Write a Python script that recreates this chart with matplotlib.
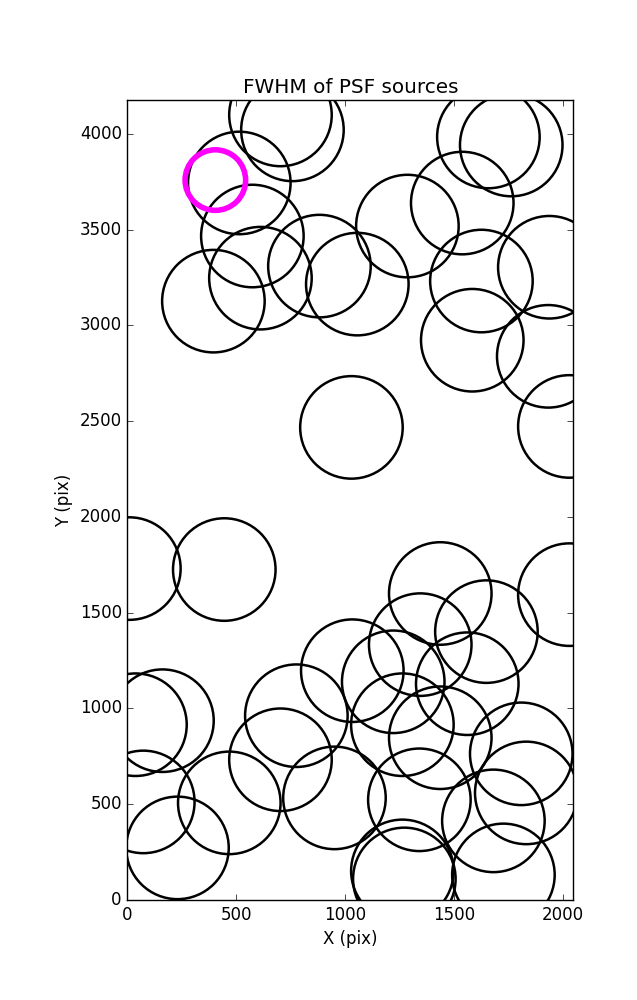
import matplotlib

matplotlib.use("Agg")
import matplotlib.pyplot as plt

# source positions (pix)
src_x = [703, 758, 1658, 1763, 1538, 1286, 1626, 1938, 1584, 1933, 514, 574, 611, 395,
         882, 1056, 1029, 2030, 9, 445, 1437, 2030, 1649, 1345, 1561, 1033, 1221, 1263,
         1437, 1809, 1832, 1341, 1681, 1727, 1263, 1272, 951, 776, 703, 468, 161, 37, 73, 230]
src_y = [4098, 4020, 3983, 3941, 3638, 3518, 3231, 3303, 2922, 2838, 3743, 3466, 3246, 3126,
         3309, 3215, 2467, 2472, 1730, 1725, 1600, 1594, 1401, 1333, 1129, 1197, 1139, 915,
         847, 763, 559, 523, 413, 131, 152, 110, 533, 962, 732, 507, 936, 915, 512, 272]

# highlighted source
sel_x = [404]
sel_y = [3758]

plt.style.use("classic")
fig = plt.figure(figsize=(6.37, 10), dpi=100, facecolor="white")
ax = fig.add_axes([0.2, 0.1, 0.7, 0.8])
ax.set_facecolor("white")

ax.scatter(src_x, src_y, s=5450, facecolors="none", edgecolors="k", linewidths=1.8)
ax.scatter(sel_x, sel_y, s=1900, facecolors="none", edgecolors="magenta", linewidths=4)

ax.set_xlim(0, 2048)
ax.set_ylim(0, 4176)
ax.set_xticks([0, 500, 1000, 1500, 2000])
ax.set_yticks(range(0, 4001, 500))
ax.set_xlabel("X (pix)")
ax.set_ylabel("Y (pix)")
ax.set_title("FWHM of PSF sources")

fig.savefig("out.png", dpi=100, facecolor="white")
